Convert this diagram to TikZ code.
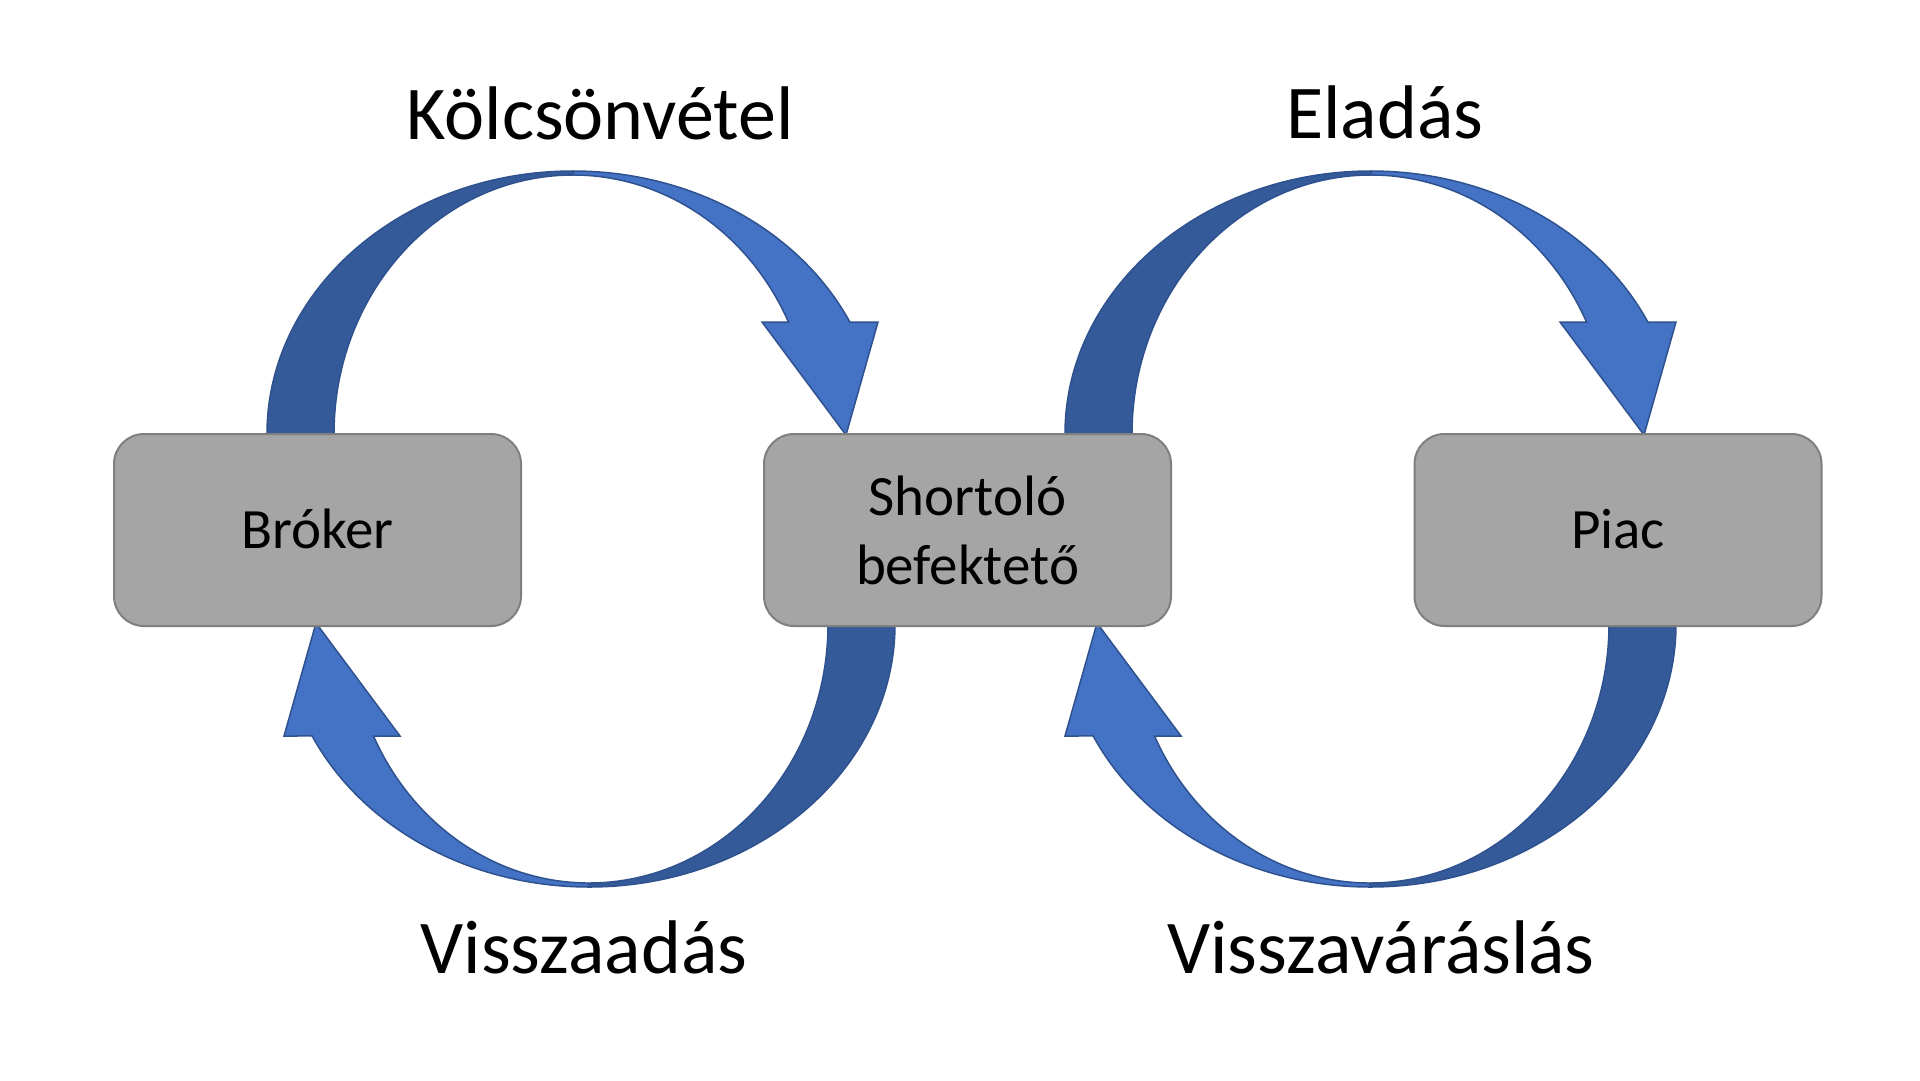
\documentclass[tikz,border=0pt]{standalone}
\usepackage{fontspec}
\setmainfont{Carlito}
\definecolor{boxfill}{HTML}{A5A5A5}
\definecolor{boxline}{HTML}{7F7F7F}
\definecolor{arrowdark}{HTML}{355A99}
\definecolor{arrowlight}{HTML}{4472C4}
\definecolor{arrowline}{HTML}{2F528F}
\begin{document}
\begin{tikzpicture}[x=1pt,y=1pt,
  box/.style={draw=boxline, line width=2pt, fill=boxfill, rounded corners=30pt,
    minimum width=407pt, minimum height=192pt, inner sep=0pt,
    font=\fontsize{57}{69}\selectfont, text=black},
  lbl/.style={anchor=base, inner sep=0pt, font=\fontsize{76}{90}\selectfont, text=black},
  darkpart/.style={fill=arrowdark, draw=arrowline, line width=1.5pt, line join=round},
  lightpart/.style={fill=arrowlight, draw=arrowline, line width=1.5pt, line join=miter},
  curvedarrow/.pic={
    \path[darkpart] (-306,0) arc[start angle=180,end angle=90,x radius=306,y radius=263]
      -- (0,259) arc[start angle=90,end angle=180,x radius=239,y radius=259] -- cycle;
    \path[lightpart] (0,263) arc[start angle=90,end angle=25.2,x radius=306,y radius=263]
      -- (305,112) -- (273,-1) -- (189,112) -- (215.5,112)
      arc[start angle=25.62,end angle=90,x radius=239,y radius=259] -- cycle;
  }
]
\useasboundingbox (0,0) rectangle (1920,-1080);
\fill[white] (0,0) rectangle (1920,-1080);

% curved arrows
\pic (a1) at (573,-434) {curvedarrow};
\pic (a2) at (1371,-434) {curvedarrow};
\pic[rotate=180] (a3) at (589,-624) {curvedarrow};
\pic[rotate=180] (a4) at (1370,-624) {curvedarrow};

% boxes
\node[box, text height=42pt, text depth=6pt] (broker) at (317.5,-530) {Bróker};
\node[box, align=center] (short) at (967.5,-530) {Shortoló\\befektető};
\node[box, text height=42pt, text depth=6pt] (piac) at (1618,-530) {Piac};

% labels
\node[lbl] (kolcs) at (600,-139) {Kölcsönvétel};
\node[lbl] (elad) at (1385,-138) {Eladás};
\node[lbl] (vissza) at (584,-973) {Visszaadás};
\node[lbl] (visszav) at (1381,-973) {Visszaváráslás};
\end{tikzpicture}
\end{document}
